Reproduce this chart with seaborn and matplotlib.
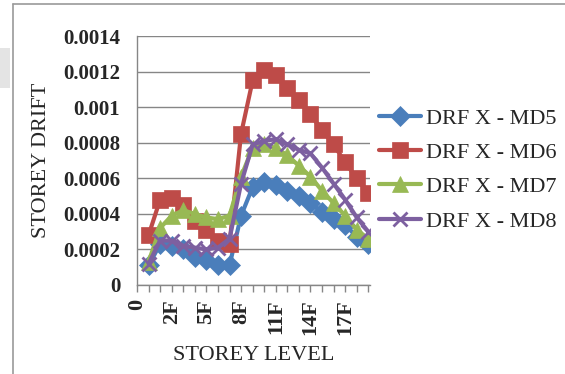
import numpy as np
import pandas as pd
import matplotlib
matplotlib.use("Agg")
import matplotlib.pyplot as plt
from matplotlib.lines import Line2D
from matplotlib.patches import Rectangle
import seaborn as sns

# Storey levels (category axis); "0" is the base with no drift value
levels = ["0", "GF"] + [f"{k}F" for k in range(1, 20)]

drf_md5 = [np.nan, 0.00011, 0.00023, 0.00022, 0.00020, 0.00016, 0.00014, 0.00011, 0.00011,
           0.00039, 0.00055, 0.00058, 0.00056, 0.00053, 0.00050, 0.00046, 0.00041,
           0.00037, 0.00034, 0.00027, 0.00023]
drf_md6 = [np.nan, 0.00028, 0.00048, 0.00049, 0.00045, 0.00036, 0.00031, 0.00025, 0.00023,
           0.00085, 0.00115, 0.00121, 0.00118, 0.00111, 0.00104, 0.00096, 0.00087,
           0.00079, 0.00069, 0.00060, 0.00052]
drf_md7 = [np.nan, 0.00013, 0.00032, 0.00039, 0.00042, 0.00040, 0.00038, 0.00037, 0.00039,
           0.00061, 0.00077, 0.00079, 0.00077, 0.00073, 0.00067, 0.00061, 0.00053,
           0.00046, 0.00039, 0.00031, 0.00026]
drf_md8 = [np.nan, 0.00012, 0.00025, 0.00025, 0.00022, 0.00021, 0.00020, 0.00021, 0.00026,
           0.00057, 0.00079, 0.00081, 0.00082, 0.00079, 0.00076, 0.00074, 0.00066,
           0.00057, 0.00048, 0.00038, 0.00030]

series_names = ["DRF X - MD5", "DRF X - MD6", "DRF X - MD7", "DRF X - MD8"]
series_values = [drf_md5, drf_md6, drf_md7, drf_md8]

y_ticks = [0, 0.0002, 0.0004, 0.0006, 0.0008, 0.001, 0.0012, 0.0014]
y_tick_labels = ["0", "0.0002", "0.0004", "0.0006", "0.0008", "0.001", "0.0012", "0.0014"]

colors = ["#4A7EBB", "#BE4B48", "#98B954", "#7D60A0"]
markers = ["D", "s", "^", "x"]
msizes = [10, 12, 12, 10]

frames = []
for name, vals in zip(series_names, series_values):
    frames.append(pd.DataFrame({"pos": np.arange(len(levels)), "level": levels,
                                "drift": vals, "series": name}))
df = pd.concat(frames, ignore_index=True)

sns.set_theme(style="white")
plt.rcParams["font.family"] = ["Liberation Serif", "DejaVu Serif"]

fig = plt.figure(figsize=(5.65, 3.74), dpi=100)
ax = fig.add_axes([137 / 565, 89 / 374, 233 / 565, 249 / 374])

for name, c, m, ms in zip(series_names, colors, markers, msizes):
    sub = df[df["series"] == name].dropna()
    sns.lineplot(data=sub, x="pos", y="drift", ax=ax, color=c, linewidth=3,
                 marker=m, markersize=ms, markeredgecolor=c,
                 markeredgewidth=2 if m == "x" else 0.5, legend=False)

ax.set_xlim(0, 20.15)
ax.set_ylim(0, 0.0014)
ax.set_yticks(y_ticks)
ax.set_yticklabels(y_tick_labels, fontweight="bold")
ax.set_xticks(range(0, len(levels), 3))
ax.set_xticklabels([levels[i] for i in range(0, len(levels), 3)], rotation=90,
                   fontweight="bold")
ax.set_xticks(range(len(levels)), minor=True)
ax.tick_params(axis="x", which="both", direction="out", length=5, width=1,
               color="#868686", bottom=True, labelsize=16, pad=5)
ax.tick_params(axis="y", length=0, labelsize=15, pad=12)
ax.grid(axis="y", color="#868686", linewidth=1)
ax.set_axisbelow(True)
for side in ["top", "right"]:
    ax.spines[side].set_visible(False)
for side in ["left", "bottom"]:
    ax.spines[side].set_color("#868686")
    ax.spines[side].set_linewidth(1)

ax.set_xlabel("STOREY LEVEL", fontsize=16, labelpad=8)
ax.set_ylabel("STOREY DRIFT", fontsize=16, labelpad=9)

handles = [Line2D([0], [0], color=c, linewidth=3, marker=m, markersize=ms,
                  markeredgecolor=c, markeredgewidth=2 if m == "x" else 0.5)
           for c, m, ms in zip(colors, markers, msizes)]
fig.legend(handles, series_names, loc="upper left", bbox_to_anchor=(379 / 565, 1 - 108 / 374),
           frameon=False, fontsize=16, handlelength=1.9, handletextpad=0.2,
           labelspacing=0.62, borderaxespad=0, borderpad=0)

# chart frame
fig.add_artist(Line2D([13 / 565, 13 / 565], [0, 1 - 4 / 374], transform=fig.transFigure,
                      color="#9a9a9a", linewidth=1.2))
fig.add_artist(Line2D([13 / 565, 1], [1 - 4 / 374, 1 - 4 / 374], transform=fig.transFigure,
                      color="#9a9a9a", linewidth=1.2))
fig.add_artist(Rectangle((0, 1 - 88 / 374), 10 / 565, 40 / 374, transform=fig.transFigure,
                         facecolor="#e4e4e4", edgecolor="none"))

fig.savefig("out.png", dpi=100)
